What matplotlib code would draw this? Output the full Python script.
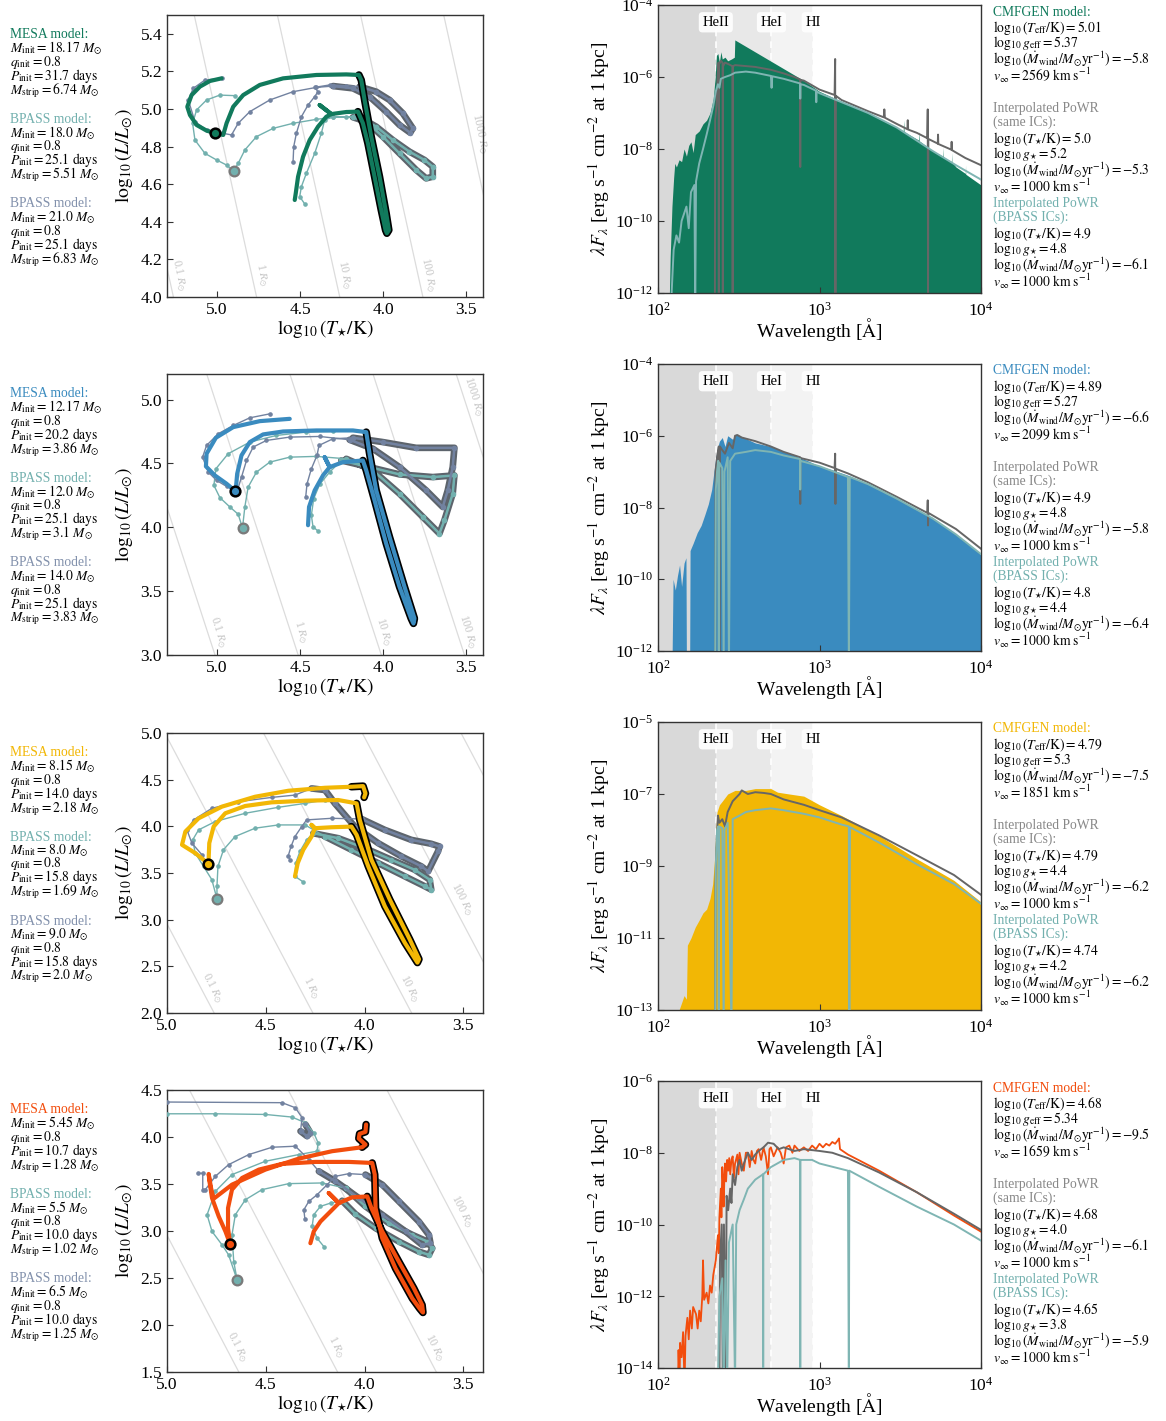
import numpy as np
import matplotlib
matplotlib.use("Agg")
import matplotlib.pyplot as plt
from matplotlib.ticker import NullLocator, FormatStrFormatter

plt.rcParams['font.family'] = ['Liberation Serif', 'DejaVu Serif']
plt.rcParams['mathtext.fontset'] = 'stix'

# ---------------------------------------------------------------- colours
model_colors = ['#117a5c', '#3a8bbf', '#f2b705', '#f24d0d']
teal = '#72b0ae'
slate = '#7282a0'
slate_text = '#8291ac'
powr_grey = '#666666'
powr_teal = '#7fb5b3'
strip_grey = '#5d646c'

# ---------------------------------------------------------------- labels
mesa_minit = ['18.17', '12.17', '8.15', '5.45']
mesa_pinit = ['31.7', '20.2', '14.0', '10.7']
mesa_mstrip = ['6.74', '3.86', '2.18', '1.28']
bpass1_minit = ['18.0', '12.0', '8.0', '5.5']
bpass1_pinit = ['25.1', '25.1', '15.8', '10.0']
bpass1_mstrip = ['5.51', '3.1', '1.69', '1.02']
bpass2_minit = ['21.0', '14.0', '9.0', '6.5']
bpass2_pinit = ['25.1', '25.1', '15.8', '10.0']
bpass2_mstrip = ['6.83', '3.83', '2.0', '1.25']
q_init = '0.8'

cmfgen_logT = [5.01, 4.89, 4.79, 4.68]
cmfgen_logg = ['5.37', '5.27', '5.3', '5.34']
cmfgen_mdot = ['-5.8', '-6.6', '-7.5', '-9.5']
cmfgen_vinf = ['2569', '2099', '1851', '1659']
same_logT = ['5.0', '4.9', '4.79', '4.68']
same_logg = ['5.2', '4.8', '4.4', '4.0']
same_mdot = ['-5.3', '-5.8', '-6.2', '-6.1']
bpic_logT = ['4.9', '4.8', '4.74', '4.65']
bpic_logg = ['4.8', '4.4', '4.2', '3.8']
bpic_mdot = ['-6.1', '-6.4', '-6.2', '-5.9']
powr_vinf = '1000'

# ---------------------------------------------------------------- HR tracks (log Teff, log L)
mesa_1 = [(4.532, 4.516), (4.526, 4.551), (4.512, 4.64), (4.482, 4.746), (4.442, 4.835), (4.392, 4.906),
          (4.342, 4.959), (4.312, 4.973), (4.382, 5.021), (4.312, 4.973), (4.222, 4.984), (4.152, 4.986),
          (4.122, 4.924), (4.092, 4.817), (4.052, 4.64), (4.012, 4.463), (3.986, 4.356), (3.978, 4.339),
          (3.966, 4.356), (3.982, 4.445), (4.022, 4.64), (4.072, 4.853), (4.112, 5.048), (4.132, 5.154),
          (4.146, 5.181), (4.222, 5.184), (4.402, 5.181), (4.602, 5.163), (4.742, 5.128), (4.842, 5.074),
          (4.902, 5.012), (4.942, 4.924), (4.962, 4.862), (5.01, 4.871), (5.062, 4.885), (5.122, 4.915),
          (5.162, 4.968), (5.178, 5.012), (5.152, 5.074), (5.102, 5.119), (5.042, 5.149), (4.972, 5.163)]
mesa_1_strip = [(11, 24)]
mesa_2 = [(4.452, 4.016), (4.446, 4.159), (4.412, 4.289), (4.362, 4.406), (4.322, 4.471), (4.352, 4.549),
          (4.322, 4.471), (4.242, 4.51), (4.122, 4.523), (4.102, 4.445), (4.052, 4.211), (3.982, 3.872),
          (3.902, 3.534), (3.832, 3.286), (3.818, 3.247), (3.812, 3.286), (3.872, 3.534), (3.962, 3.924),
          (4.042, 4.289), (4.082, 4.576), (4.102, 4.745), (4.182, 4.758), (4.402, 4.758), (4.602, 4.75),
          (4.722, 4.727), (4.802, 4.667), (4.852, 4.563), (4.878, 4.419), (4.886, 4.302), (4.89, 4.284),
          (4.942, 4.341), (5.012, 4.406), (5.066, 4.477), (5.062, 4.576), (5.006, 4.701), (4.902, 4.784),
          (4.742, 4.831), (4.562, 4.849)]
mesa_2_strip = [(8, 20)]
mesa_3 = [(4.352, 3.464), (4.338, 3.606), (4.310, 3.749), (4.268, 3.891), (4.251, 3.980), (4.268, 4.015),
          (4.251, 3.980), (4.167, 3.990), (4.066, 3.997), (4.040, 3.909), (3.981, 3.571), (3.897, 3.144),
          (3.796, 2.753), (3.732, 2.540), (3.724, 2.576), (3.771, 2.789), (3.872, 3.215), (3.965, 3.642),
          (4.024, 4.069), (4.040, 4.246), (4.133, 4.282), (4.301, 4.275), (4.470, 4.257), (4.604, 4.218),
          (4.705, 4.140), (4.764, 3.997), (4.786, 3.820), (4.79, 3.599), (4.857, 3.713), (4.924, 3.802),
          (4.907, 3.944), (4.840, 4.086), (4.722, 4.211), (4.554, 4.317), (4.386, 4.381), (4.200, 4.413),
          (4.066, 4.424), (4.007, 4.431), (3.995, 4.353), (4.002, 4.310)]
mesa_3_strip = [(8, 19), (36, 39)]
mesa_4 = [(4.274, 2.870), (4.257, 2.995), (4.223, 3.101), (4.172, 3.208), (4.130, 3.297), (4.181, 3.404),
          (4.130, 3.297), (4.063, 3.358), (3.986, 3.368), (3.965, 3.244), (3.910, 2.995), (3.826, 2.674),
          (3.750, 2.390), (3.708, 2.212), (3.704, 2.133), (3.721, 2.176), (3.758, 2.283), (3.843, 2.603),
          (3.910, 2.923), (3.944, 3.244), (3.948, 3.600), (3.961, 3.724), (4.079, 3.735), (4.248, 3.735),
          (4.417, 3.714), (4.535, 3.653), (4.620, 3.564), (4.671, 3.440), (4.691, 3.244), (4.691, 3.030),
          (4.68, 2.859), (4.704, 2.995), (4.738, 3.155), (4.772, 3.351), (4.785, 3.528), (4.789, 3.607),
          (4.777, 3.457), (4.764, 3.343), (4.671, 3.493), (4.502, 3.653), (4.333, 3.770), (4.164, 3.849),
          (4.012, 3.891), (3.995, 3.920), (4.029, 3.984), (4.025, 4.034), (3.995, 4.055), (3.992, 4.133)]
mesa_4_strip = [(8, 21), (42, 47)]
mesa_marker_logL = [4.871, 4.284, 3.599, 2.859]

bpass_a_1 = [(4.472, 4.495), (4.502, 4.534), (4.492, 4.587), (4.462, 4.658), (4.412, 4.764), (4.372, 4.871),
             (4.352, 4.941), (4.302, 4.959), (4.222, 4.959), (4.142, 4.956), (4.042, 4.906), (3.942, 4.835),
             (3.842, 4.773), (3.752, 4.729), (3.702, 4.693), (3.702, 4.64), (3.742, 4.631), (3.802, 4.676),
             (3.902, 4.764), (4.002, 4.853), (4.102, 4.933), (4.182, 4.956), (4.302, 4.956), (4.402, 4.945),
             (4.542, 4.924), (4.662, 4.897), (4.762, 4.853), (4.832, 4.782), (4.872, 4.711), (4.9, 4.67),
             (4.942, 4.702), (5.002, 4.729), (5.072, 4.764), (5.132, 4.835), (5.146, 4.924), (5.122, 4.995),
             (5.062, 5.048), (4.982, 5.074), (4.892, 5.071)]
bpass_a_1_strip = [(9, 21)]
bpass_b_1 = [(4.542, 4.72), (4.538, 4.80), (4.522, 4.871), (4.492, 4.959), (4.452, 5.021), (4.412, 5.066),
             (4.392, 5.092), (4.412, 5.115), (4.322, 5.128), (4.222, 5.124), (4.142, 5.119), (4.042, 5.092),
             (3.962, 5.048), (3.882, 4.977), (3.822, 4.897), (3.838, 4.874), (3.902, 4.915), (3.982, 4.986),
             (4.082, 5.066), (4.182, 5.11), (4.302, 5.122), (4.402, 5.115), (4.542, 5.092), (4.682, 5.048),
             (4.802, 4.986), (4.872, 4.924), (4.912, 4.862), (4.982, 4.874), (5.062, 4.888), (5.132, 4.933),
             (5.172, 5.048), (5.142, 5.11), (5.072, 5.154), (4.972, 5.163)]
bpass_b_1_strip = [(10, 20)]

bpass_a_2 = [(4.392, 3.971), (4.422, 4.003), (4.432, 4.094), (4.418, 4.224), (4.382, 4.336), (4.322, 4.432),
             (4.252, 4.523), (4.102, 4.477), (3.902, 4.414), (3.702, 4.393), (3.572, 4.406), (3.582, 4.263),
             (3.632, 4.055), (3.662, 3.951), (3.762, 4.081), (3.902, 4.263), (4.062, 4.445), (4.222, 4.536),
             (4.402, 4.555), (4.562, 4.549), (4.682, 4.51), (4.762, 4.432), (4.812, 4.315), (4.832, 4.159),
             (4.846, 3.995), (4.872, 4.102), (4.922, 4.159), (4.982, 4.232), (5.018, 4.328), (5.006, 4.458),
             (4.932, 4.576), (4.802, 4.667), (4.642, 4.719), (4.462, 4.745), (4.302, 4.75)]
bpass_a_2_strip = [(6, 17)]
bpass_b_2 = [(4.466, 4.237), (4.458, 4.341), (4.432, 4.458), (4.398, 4.563), (4.386, 4.641), (4.302, 4.693),
             (4.182, 4.701), (4.002, 4.667), (3.802, 4.622), (3.572, 4.622), (3.582, 4.471), (3.612, 4.289),
             (3.642, 4.159), (3.742, 4.289), (3.902, 4.471), (4.062, 4.615), (4.202, 4.685), (4.382, 4.711),
             (4.562, 4.706), (4.702, 4.68), (4.782, 4.628), (4.822, 4.523), (4.852, 4.393), (4.878, 4.284),
             (4.942, 4.32), (5.002, 4.367), (5.052, 4.432), (5.086, 4.549), (5.062, 4.641), (4.992, 4.732),
             (4.902, 4.797), (4.802, 4.857), (4.682, 4.888)]
bpass_b_2_strip = [(6, 16)]

bpass_a_3 = [(4.310, 3.404), (4.352, 3.464), (4.348, 3.606), (4.327, 3.731), (4.293, 3.855), (4.259, 3.926),
             (4.133, 3.873), (3.998, 3.766), (3.864, 3.642), (3.746, 3.535), (3.670, 3.429), (3.662, 3.322),
             (3.695, 3.358), (3.796, 3.464), (3.931, 3.606), (4.066, 3.749), (4.200, 3.891), (4.301, 4.015),
             (4.436, 4.015), (4.554, 3.980), (4.655, 3.891), (4.714, 3.749), (4.742, 3.571), (4.747, 3.358),
             (4.747, 3.223), (4.773, 3.429), (4.815, 3.571), (4.857, 3.713), (4.870, 3.855), (4.840, 3.962),
             (4.756, 4.051), (4.604, 4.140), (4.436, 4.204), (4.301, 4.246), (4.200, 4.282)]
bpass_a_3_strip = [(5, 16)]
bpass_b_3 = [(4.377, 3.642), (4.386, 3.685), (4.372, 3.784), (4.352, 3.891), (4.318, 3.997), (4.293, 4.069),
             (4.167, 4.086), (4.015, 4.079), (3.897, 3.962), (3.763, 3.855), (3.662, 3.813), (3.620, 3.784),
             (3.628, 3.731), (3.678, 3.518), (3.712, 3.571), (3.813, 3.678), (3.931, 3.820), (4.049, 3.997),
             (4.150, 4.246), (4.200, 4.389), (4.268, 4.406), (4.352, 4.335), (4.470, 4.310), (4.638, 4.264),
             (4.773, 4.193), (4.865, 4.069), (4.899, 3.962), (4.874, 3.820), (4.823, 3.695), (4.793, 3.571)]
bpass_b_3_strip = [(7, 20)]

bpass_a_4 = [(4.206, 2.835), (4.240, 2.923), (4.265, 3.048), (4.257, 3.173), (4.223, 3.262), (4.172, 3.297),
             (4.113, 3.322), (4.046, 3.180), (3.944, 3.030), (3.826, 2.888), (3.725, 2.781), (3.674, 2.746),
             (3.657, 2.817), (3.682, 2.888), (3.758, 2.959), (3.877, 3.084), (3.995, 3.262), (4.096, 3.457),
             (4.215, 3.511), (4.383, 3.504), (4.519, 3.440), (4.603, 3.333), (4.654, 3.173), (4.671, 2.959),
             (4.662, 2.674), (4.645, 2.479), (4.688, 2.746), (4.721, 2.852), (4.772, 2.995), (4.797, 3.173),
             (4.755, 3.422), (4.671, 3.600), (4.502, 3.742), (4.333, 3.813), (4.240, 3.849), (4.235, 3.938),
             (4.257, 4.044), (4.299, 4.151), (4.367, 4.212), (4.502, 4.240), (4.755, 4.247), (5.0, 4.247),
             (5.06, 4.247)]
bpass_a_4_strip = [(6, 17)]
bpass_b_4 = [(4.302, 3.130), (4.307, 3.226), (4.282, 3.315), (4.240, 3.386), (4.189, 3.493), (4.147, 3.582),
             (4.079, 3.610), (3.995, 3.600), (3.910, 3.493), (3.826, 3.315), (3.725, 3.101), (3.674, 2.959),
             (3.666, 2.870), (3.708, 2.852), (3.792, 2.995), (3.910, 3.173), (4.029, 3.351), (4.147, 3.529),
             (4.231, 3.635), (4.282, 3.760), (4.350, 3.902), (4.468, 3.891), (4.586, 3.813), (4.688, 3.706),
             (4.755, 3.582), (4.806, 3.440), (4.819, 3.436), (4.819, 3.614), (4.843, 3.614),
             (np.nan, np.nan),
             (5.059, 4.372), (5.0, 4.372), (4.417, 4.365), (4.350, 4.311), (4.316, 4.205), (4.324, 4.062),
             (4.291, 4.009), (4.274, 4.044), (4.299, 4.133)]
bpass_b_4_strip = [(7, 18), (35, 38)]
bpass_marker = [(4.9, 4.67), (4.846, 3.995), (4.747, 3.223), (4.645, 2.479)]

# ---------------------------------------------------------------- spectra (wavelength [A], log10 lambda F_lambda)
spec1_cmfgen = [(117, -12.5), (119, -11.0), (122, -9.6), (125, -8.8), (127, -8.4), (130, -8.5), (135, -8.3),
                (140, -8.35), (145, -8.0), (150, -8.2), (155, -7.9), (160, -7.8), (165, -8.1), (170, -7.6),
                (180, -7.5), (190, -7.3), (200, -7.2), (210, -7.0), (220, -6.6), (226, -6.0), (230, -5.4),
                (235, -5.35), (240, -5.6), (245, -5.3), (250, -5.5), (260, -5.45), (270, -5.55), (285, -5.5),
                (297, -5.45), (299, -4.97), (800, -6.1), (1000, -6.4), (1370, -6.68), (2000, -7.0), (3000, -7.4),
                (3300, -7.5), (3320, -7.2), (3340, -7.52), (4100, -7.75), (4120, -7.5), (4140, -7.77),
                (5000, -8.05), (5800, -8.2), (5820, -7.95), (5840, -8.22), (6560, -8.35), (6580, -8.1),
                (6600, -8.36), (7000, -8.5), (8000, -8.68), (8020, -8.45), (8040, -8.7), (10000, -9.0)]
spec1_same = [(225, -12.5), (226, -7.2), (230, -6.8), (234, -6.0), (237, -5.6), (238, -12.5), (239, -5.65),
              (245, -5.55), (251, -5.6), (252, -12.5), (253, -5.7), (260, -5.6), (275, -5.65), (289, -5.7),
              (290, -12.5), (291, -5.7), (300, -5.67), (400, -5.72), (500, -5.8), (600, -5.9), (700, -6.0),
              (759, -6.07), (760, -8.5), (761, -6.08), (800, -6.1), (1000, -6.35), (1240, -6.5), (1250, -5.5),
              (1255, -12.5), (1260, -6.52), (1370, -6.64), (2000, -6.95), (2500, -7.12), (2520, -6.9),
              (2540, -7.13), (3000, -7.3), (3500, -7.45), (3520, -7.2), (3540, -7.46), (4000, -7.55),
              (4650, -7.7), (4680, -6.9), (4700, -12.5), (4720, -7.72), (5400, -7.85), (5420, -7.6),
              (5440, -7.86), (6560, -8.02), (6580, -7.8), (6600, -8.03), (8000, -8.25), (10000, -8.45)]
spec1_bpass = [(120, -12.5), (125, -10.8), (130, -10.4), (135, -10.6), (140, -10.0), (150, -9.6), (155, -10.2),
               (160, -9.2), (168, -9.0), (170, -12.5), (172, -8.9), (180, -8.4), (190, -8.0), (200, -7.6),
               (210, -7.2), (220, -6.8), (228, -6.4), (235, -6.2), (240, -6.3), (245, -6.05), (260, -6.0),
               (280, -5.95), (300, -5.88), (350, -5.85), (400, -5.88), (500, -5.97), (505, -6.3), (510, -5.98),
               (600, -6.05), (759, -6.18), (760, -6.6), (761, -6.2), (800, -6.22), (950, -6.38), (955, -6.7),
               (960, -6.4), (1000, -6.45), (1370, -6.7), (2000, -7.0), (3000, -7.4), (5000, -8.05),
               (7000, -8.45), (10000, -8.85)]

spec2_cmfgen = [(122, -12.5), (124, -10.0), (128, -10.3), (132, -9.9), (136, -9.6), (140, -10.2), (145, -9.55),
                (149, -9.4), (150, -12.5), (157, -12.5), (158, -9.2), (165, -9.0), (175, -8.7), (185, -8.5),
                (195, -8.2), (205, -7.9), (215, -7.5), (222, -7.0), (228, -6.6), (235, -6.3), (240, -6.15),
                (250, -6.05), (260, -6.3), (270, -6.0), (290, -6.1), (305, -5.95), (320, -6.0), (400, -6.2),
                (500, -6.3), (600, -6.45), (700, -6.55), (850, -6.7), (1000, -6.85), (1200, -6.95),
                (1500, -7.1), (2000, -7.35), (3000, -7.75), (5000, -8.3), (7000, -8.75), (10000, -9.3)]
spec2_same = [(226, -12.5), (227, -7.0), (232, -6.6), (238, -6.3), (240, -12.5), (242, -6.3), (250, -6.4),
              (260, -6.5), (275, -6.2), (290, -6.35), (300, -6.0), (310, -5.98), (330, -6.05), (400, -6.15),
              (500, -6.3), (600, -6.45), (759, -6.6), (760, -7.9), (761, -6.62), (1000, -6.75), (1240, -6.9),
              (1250, -6.5), (1255, -7.9), (1260, -6.92), (1500, -7.05), (2000, -7.3), (3000, -7.7),
              (4650, -8.15), (4680, -7.8), (4700, -8.5), (4720, -8.15), (7000, -8.6), (10000, -9.15)]
spec2_bpass = [(226, -12.5), (228, -7.5), (232, -7.0), (236, -6.7), (238, -12.5), (240, -6.75), (250, -6.9),
               (255, -12.5), (258, -7.0), (270, -6.6), (275, -12.5), (280, -6.7), (300, -6.5), (350, -6.45),
               (400, -6.4), (500, -6.45), (600, -6.55), (759, -6.65), (760, -7.5), (762, -6.7), (1000, -6.85),
               (1500, -7.15), (1520, -12.5), (1540, -7.15), (2000, -7.35), (3000, -7.75), (5000, -8.3),
               (7000, -8.75), (10000, -9.3)]

spec3_cmfgen = [(133, -13.5), (135, -13.0), (140, -12.8), (145, -12.6), (150, -12.7), (152, -11.2), (160, -11.0),
                (170, -10.7), (180, -10.5), (190, -10.3), (200, -10.2), (210, -9.9), (218, -9.5), (224, -8.8),
                (228, -8.0), (232, -7.5), (240, -7.3), (250, -7.2), (270, -7.0), (300, -6.9), (350, -6.9),
                (400, -6.85), (450, -6.85), (500, -6.85), (550, -6.95), (650, -7.0), (800, -7.06), (1000, -7.3),
                (1370, -7.6), (2340, -8.16), (4000, -8.8), (6800, -9.4), (10000, -10.0)]
spec3_same = [(226, -13.5), (227, -9.5), (230, -8.5), (235, -7.6), (240, -7.8), (250, -7.7), (260, -7.9),
              (270, -7.5), (290, -7.2), (320, -7.0), (330, -6.9), (360, -7.0), (400, -6.95), (450, -6.97),
              (500, -7.0), (600, -7.15), (800, -7.3), (1000, -7.45), (1370, -7.65), (2340, -8.15),
              (4000, -8.7), (6800, -9.25), (10000, -9.8)]
spec3_bpass = [(226, -13.5), (228, -9.0), (232, -8.0), (236, -7.9), (238, -13.5), (240, -7.9), (250, -7.95),
               (255, -13.5), (258, -8.0), (270, -7.8), (285, -13.5), (290, -7.7), (320, -7.6), (350, -7.5),
               (400, -7.45), (500, -7.4), (600, -7.45), (800, -7.55), (1000, -7.65), (1370, -7.85),
               (1520, -7.9), (1530, -13.5), (1545, -7.92), (2340, -8.35), (4000, -8.95), (6800, -9.5),
               (10000, -10.05)]

spec4_cmfgen = [(133, -14.5), (134, -13.5), (136, -14.5), (137, -13.3), (140, -13.7), (143, -13.0), (146, -14.5),
                (148, -13.1), (152, -12.6), (155, -13.2), (158, -12.4), (162, -12.9), (165, -12.3),
                (172, -12.5), (176, -12.9), (180, -12.4), (184, -12.7), (188, -12.0), (190, -11.0), (193, -12.1),
                (200, -11.9), (205, -12.2), (210, -11.7), (215, -11.9), (220, -11.4), (228, -11.0),
                (232, -10.6), (235, -10.3), (238, -10.8), (240, -9.8), (243, -9.3), (245, -9.0), (247, -9.8),
                (250, -8.4), (253, -8.9), (255, -9.5), (258, -8.6), (260, -8.3), (264, -8.8), (268, -8.2),
                (272, -8.5), (276, -8.15), (280, -8.6), (285, -8.2), (290, -8.1), (295, -8.7), (300, -8.3),
                (310, -8.05), (315, -8.6), (320, -8.0), (330, -8.3), (340, -8.5), (350, -8.0), (360, -8.0),
                (370, -8.4), (380, -7.95), (390, -8.2), (400, -8.3), (410, -7.95), (420, -7.9), (435, -8.2),
                (450, -7.85), (465, -8.1), (480, -8.6), (490, -7.9), (500, -7.85), (520, -8.1), (550, -7.85),
                (575, -8.0), (600, -8.3), (620, -7.85), (650, -7.8), (680, -8.0), (700, -7.8), (750, -7.95),
                (800, -7.85), (850, -7.95), (900, -7.8), (950, -7.9), (1000, -7.75), (1050, -7.85),
                (1100, -7.75), (1150, -7.8), (1200, -7.7), (1250, -7.75), (1300, -7.65), (1320, -7.6),
                (1340, -7.9), (1500, -8.05), (2340, -8.5), (4000, -9.1), (6800, -9.75), (10000, -10.2)]
spec4_same = [(240, -14.5), (242, -11.0), (248, -10.0), (252, -14.5), (256, -10.0), (262, -14.5), (266, -9.2),
              (272, -9.6), (280, -9.0), (285, -9.4), (290, -8.6), (300, -8.9), (310, -8.4), (320, -8.2),
              (330, -8.5), (340, -8.3), (360, -8.0), (380, -8.2), (400, -8.05), (420, -7.95), (450, -7.85),
              (480, -7.72), (520, -7.75), (560, -7.9), (600, -7.85), (700, -7.95), (800, -7.9), (1000, -7.95),
              (1200, -8.0), (1500, -8.15), (2340, -8.55), (4000, -9.1), (6800, -9.7), (10000, -10.15)]
spec4_bpass = [(235, -14.5), (240, -12.0), (250, -11.5), (255, -14.5), (262, -11.0), (268, -14.5), (275, -10.5),
               (290, -10.0), (300, -14.5), (305, -10.0), (320, -9.6), (340, -9.3), (360, -9.0), (400, -8.75),
               (447, -8.6), (448, -14.5), (449, -8.6), (500, -8.4), (600, -8.2), (700, -8.15), (759, -8.2),
               (760, -14.5), (761, -8.2), (900, -8.2), (1000, -8.3), (1500, -8.5), (1520, -14.5), (1530, -8.5),
               (2340, -8.95), (4000, -9.5), (6800, -10.0), (10000, -10.45)]

edge_wavelengths = [228, 504, 912]
edge_names = ['HeII', 'HeI', 'HI']
edge_shades = ['#d9d9d9', '#e8e8e8', '#f3f3f3']

radii = [0.1, 1, 10, 100, 1000]
radius_names = ['0.1', '1', '10', '100', '1000']
LOG_TSUN = np.log10(5772.0)

hr_tracks = [
    (mesa_1, mesa_1_strip, bpass_a_1, bpass_a_1_strip, bpass_b_1, bpass_b_1_strip),
    (mesa_2, mesa_2_strip, bpass_a_2, bpass_a_2_strip, bpass_b_2, bpass_b_2_strip),
    (mesa_3, mesa_3_strip, bpass_a_3, bpass_a_3_strip, bpass_b_3, bpass_b_3_strip),
    (mesa_4, mesa_4_strip, bpass_a_4, bpass_a_4_strip, bpass_b_4, bpass_b_4_strip),
]
spectra = [(spec1_cmfgen, spec1_same, spec1_bpass), (spec2_cmfgen, spec2_same, spec2_bpass),
           (spec3_cmfgen, spec3_same, spec3_bpass), (spec4_cmfgen, spec4_same, spec4_bpass)]
hr_xlims = [(5.3, 3.4), (5.3, 3.4), (5.0, 3.4), (5.0, 3.4)]
hr_ylims = [(4.0, 5.5), (3.0, 5.2), (2.0, 5.0), (1.5, 4.5)]
hr_yticks = [[4.0, 4.2, 4.4, 4.6, 4.8, 5.0, 5.2, 5.4], [3.0, 3.5, 4.0, 4.5, 5.0],
             [2.0, 2.5, 3.0, 3.5, 4.0, 4.5, 5.0], [1.5, 2.0, 2.5, 3.0, 3.5, 4.0, 4.5]]
spec_ylo = [-12, -12, -13, -14]

# ---------------------------------------------------------------- layout (pixels)
W, H = 1166, 1421
fig = plt.figure(figsize=(W / 100, H / 100), dpi=100)
hr_rows = [(15, 297), (374, 655), (733, 1013), (1090, 1372)]
spec_rows = [(5, 293), (364, 651), (722, 1010), (1081, 1368)]
SIDE_FS = 9.8


def box(x0, x1, y0, y1):
    return [x0 / W, 1 - y1 / H, (x1 - x0) / W, (y1 - y0) / H]


def unzip(points):
    arr = np.array(points, dtype=float)
    return arr[:, 0], arr[:, 1]


def side_text(x_px, y_top_px, lines, color, spacing=0.8):
    """Multi-line annotation whose top edge sits at y_top_px."""
    fig.text(x_px / W, 1 - y_top_px / H, '\n'.join(lines), color=color, fontsize=SIDE_FS,
             ha='left', va='top', linespacing=spacing)


def style_axes(ax):
    for s in ax.spines.values():
        s.set_color('#333333')
        s.set_linewidth(1.0)
    ax.tick_params(which='both', direction='in', labelsize=12.5, length=4, width=0.8, color='#333333')


def radius_lines(ax, xlim, ylim):
    t = np.array([2.8, 5.8])
    sy = ax.bbox.height / (ylim[1] - ylim[0])
    t_cool, t_hot = min(xlim), max(xlim)
    for R, name in zip(radii, radius_names):
        lr = np.log10(R)
        ax.plot(t, 2 * lr + 4 * (t - LOG_TSUN), color='#dcdcdc', lw=0.9, zorder=0)
        t_bottom = LOG_TSUN + (ylim[0] - 2 * lr) / 4
        if t_cool <= t_bottom <= t_hot:
            l_lab = ylim[0] + 20 / sy
        else:
            l_lab = 2 * lr + 4 * (t_cool - LOG_TSUN) + 57 / sy
            if l_lab > ylim[1] - 18 / sy:
                continue
        t_lab = LOG_TSUN + (l_lab - 2 * lr) / 4
        p1 = ax.transData.transform((t_lab, l_lab))
        p2 = ax.transData.transform((t_lab - 0.1, l_lab - 0.4))
        d = (p2 - p1) / np.hypot(*(p2 - p1))
        ang = np.degrees(np.arctan2(d[1], d[0]))
        off = 6.8
        ax.annotate(name + r' $R_{\odot}$', xy=(t_lab, l_lab), xytext=(-d[1] * off, d[0] * off),
                    textcoords='offset points', rotation=ang, rotation_mode='anchor',
                    ha='center', va='center', fontsize=8.5, color='#c6c6c6', zorder=0)


def draw_bpass(ax, pts, strips, color):
    t, l = unzip(pts)
    for i0, i1 in strips:
        ax.plot(t[i0:i1 + 1], l[i0:i1 + 1], color=strip_grey, lw=4.8, solid_capstyle='round',
                solid_joinstyle='round', zorder=2)
    ax.plot(t, l, color=color, lw=1.0, marker='o', ms=2.3, zorder=3)
    for i0, i1 in strips:
        ax.plot(t[i0:i1 + 1], l[i0:i1 + 1], color=color, lw=1.8, marker='o', ms=3.0, zorder=3.5)


def draw_mesa(ax, pts, strips, color):
    t, l = unzip(pts)
    for i0, i1 in strips:
        ax.plot(t[i0:i1 + 1], l[i0:i1 + 1], color='black', lw=5.4, solid_capstyle='round',
                solid_joinstyle='round', zorder=4)
    ax.plot(t, l, color=color, lw=3.0, solid_capstyle='round', solid_joinstyle='round', zorder=5)


for r in range(4):
    color = model_colors[r]
    # ------------------------------------------------ HR diagram
    ax = fig.add_axes(box(167, 483, *hr_rows[r]))
    ax.set_xlim(*hr_xlims[r])
    ax.set_ylim(*hr_ylims[r])
    style_axes(ax)
    ax.set_xticks([5.0, 4.5, 4.0, 3.5])
    ax.set_yticks(hr_yticks[r])
    ax.xaxis.set_major_formatter(FormatStrFormatter('%.1f'))
    ax.yaxis.set_major_formatter(FormatStrFormatter('%.1f'))
    ax.set_xlabel(r'$\log_{10}(T_{\star}/{\rm K})$', fontsize=14, labelpad=0)
    ax.set_ylabel(r'$\log_{10}(L/L_{\odot})$', fontsize=14, labelpad=4)
    radius_lines(ax, hr_xlims[r], hr_ylims[r])
    mesa, mstrip, ba, bastrip, bb, bbstrip = hr_tracks[r]
    draw_bpass(ax, ba, bastrip, teal)
    draw_bpass(ax, bb, bbstrip, slate)
    draw_mesa(ax, mesa, mstrip, color)
    ax.plot([bpass_marker[r][0]], [bpass_marker[r][1]], 'o', ms=7, mfc=teal, mec='#7a7a7a', mew=1.6, zorder=6)
    ax.plot([cmfgen_logT[r]], [mesa_marker_logL[r]], 'o', ms=7, mfc=color, mec='black', mew=1.8, zorder=7)

    # left-hand model descriptions
    top = hr_rows[r][0]
    blocks = [
        ('MESA model:', color, mesa_minit[r], mesa_pinit[r], mesa_mstrip[r]),
        ('BPASS model:', teal, bpass1_minit[r], bpass1_pinit[r], bpass1_mstrip[r]),
        ('BPASS model:', slate_text, bpass2_minit[r], bpass2_pinit[r], bpass2_mstrip[r]),
    ]
    for b, (head, hc, mi, pi, ms_) in enumerate(blocks):
        y0 = top + 18 + b * 84.5
        side_text(10, y0 - 4.8, [head], hc)
        body = [r'$M_{\rm init} = %s\ M_{\odot}$' % mi,
                r'$q_{\rm init} = %s$' % q_init,
                r'$P_{\rm init} = %s\ {\rm days}$' % pi,
                r'$M_{\rm strip} = %s\ M_{\odot}$' % ms_]
        side_text(10, y0 + 6.5, body, 'black', spacing=0.7)

    # ------------------------------------------------ spectrum
    sx = fig.add_axes(box(658, 981, *spec_rows[r]))
    sx.set_xscale('log')
    sx.set_yscale('log')
    ylo = spec_ylo[r]
    sx.set_xlim(1e2, 1e4)
    sx.set_ylim(10.0 ** ylo, 10.0 ** (ylo + 8))
    style_axes(sx)
    sx.tick_params(axis='x', pad=6)
    sx.set_xticks([1e2, 1e3, 1e4])
    sx.set_yticks([10.0 ** (ylo + 2 * k) for k in range(5)])
    sx.xaxis.set_minor_locator(NullLocator())
    sx.yaxis.set_minor_locator(NullLocator())
    edges = [1e2] + edge_wavelengths
    for k in range(3):
        sx.axvspan(edges[k], edges[k + 1], color=edge_shades[k], lw=0, zorder=0)
        sx.axvline(edge_wavelengths[k], color='white', lw=1.2, ls=(0, (4, 3)), zorder=0.5)
        sx.text(edge_wavelengths[k], 0.94, edge_names[k], transform=sx.get_xaxis_transform(),
                ha='center', va='center', fontsize=10.5, zorder=6,
                bbox=dict(boxstyle='round,pad=0.25', fc='white', ec='none', alpha=0.9))
    cm, same, bp = spectra[r]
    w, f = unzip(cm)
    if r < 3:
        sx.fill_between(w, 10.0 ** f, 1e-30, color=color, lw=0, zorder=1)
    else:
        sx.plot(w, 10.0 ** f, color=color, lw=1.3, zorder=1)
    w, f = unzip(same)
    sx.plot(w, 10.0 ** f, color=powr_grey, lw=1.4, zorder=2)
    w, f = unzip(bp)
    sx.plot(w, 10.0 ** f, color=powr_teal, lw=1.4, zorder=3)
    sx.set_xlabel(r'Wavelength [$\mathrm{\AA}$]', fontsize=14, labelpad=-2)
    sx.set_ylabel(r'$\lambda F_{\lambda}$ [erg s$^{-1}$ cm$^{-2}$ at 1 kpc]', fontsize=14, labelpad=2)

    # right-hand atmosphere parameters
    stop = spec_rows[r][0]
    mdot = r'$\log_{10}(\dot{M}_{\rm wind}/M_{\odot}{\rm yr}^{-1}) = %s$'
    vinf = r'$v_{\infty} = %s\ {\rm km\ s^{-1}}$'
    side_text(993, stop + 0.5, ['CMFGEN model:'], color)
    side_text(993, stop + 14,
              [r'$\log_{10}(T_{\rm eff}/{\rm K}) = %s$' % ('%g' % cmfgen_logT[r]),
               r'$\log_{10} g_{\rm eff} = %s$' % cmfgen_logg[r],
               mdot % cmfgen_mdot[r],
               vinf % cmfgen_vinf[r]], 'black')
    side_text(993, stop + 97.2, ['Interpolated PoWR', '(same ICs):'], '#888888', spacing=1.05)
    side_text(993, stop + 125,
              [r'$\log_{10}(T_{\star}/{\rm K}) = %s$' % same_logT[r],
               r'$\log_{10} g_{\star} = %s$' % same_logg[r],
               mdot % same_mdot[r],
               vinf % powr_vinf], 'black')
    side_text(993, stop + 192.2, ['Interpolated PoWR', '(BPASS ICs):'], teal, spacing=1.05)
    side_text(993, stop + 220,
              [r'$\log_{10}(T_{\star}/{\rm K}) = %s$' % bpic_logT[r],
               r'$\log_{10} g_{\star} = %s$' % bpic_logg[r],
               mdot % bpic_mdot[r],
               vinf % powr_vinf], 'black')

fig.savefig('out.png', dpi=100)
